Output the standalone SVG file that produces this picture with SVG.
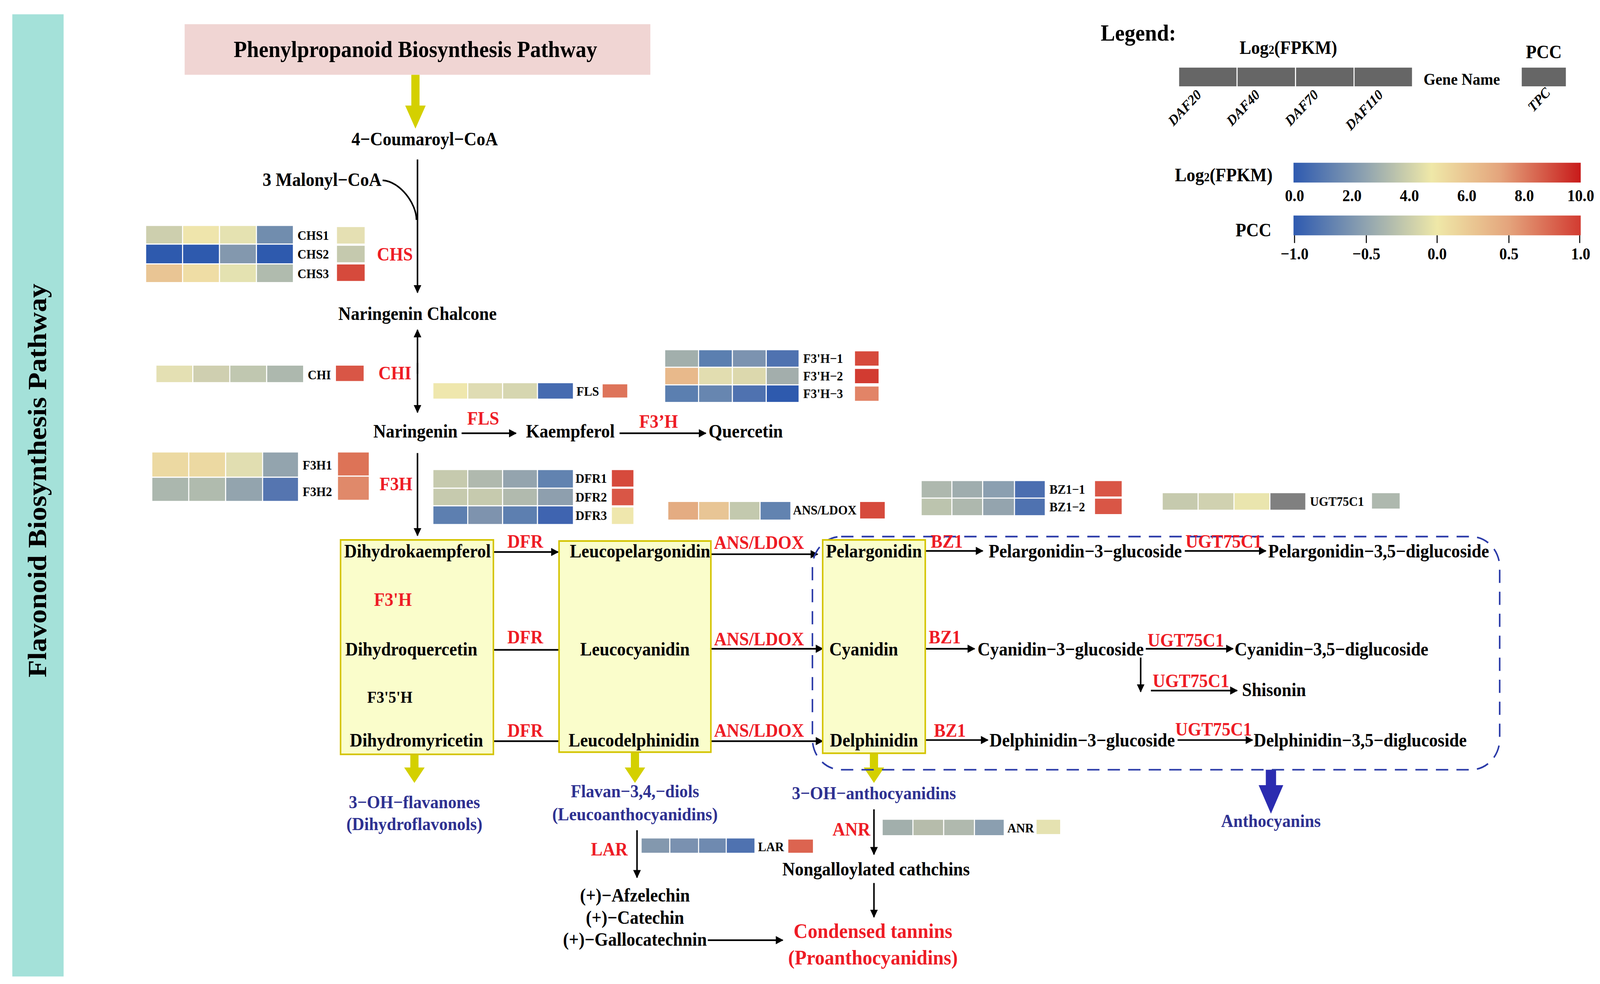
<svg xmlns="http://www.w3.org/2000/svg" width="4393" height="2519" viewBox="0 0 4393 2519">
<defs>
<style>
text{font-family:"Liberation Serif","Times New Roman",serif;font-weight:bold;}
.n{font-size:17px;fill:#000;text-anchor:middle;}
.e{font-size:17px;fill:#ee1c25;text-anchor:middle;}
.b{font-size:16.5px;fill:#2e3191;text-anchor:middle;}
.g{font-size:12px;fill:#000;}
.c rect{stroke:#fff;stroke-width:1;}
.ln{stroke:#000;stroke-width:1.5;fill:none;}
.lna{stroke:#000;stroke-width:1.5;fill:none;marker-end:url(#ah);}
.box{fill:#fafdcb;stroke:#d4c400;stroke-width:1.5;}
.ya{fill:#d4d000;}
</style>
<marker id="ah" viewBox="0 0 10 10" refX="9" refY="5" markerWidth="5" markerHeight="5" orient="auto" markerUnits="strokeWidth"><path d="M0,0L10,5L0,10z" fill="#000"/></marker>
<linearGradient id="grad" x1="0" x2="1" y1="0" y2="0">
<stop offset="0" stop-color="#2e5ab0"/><stop offset="0.25" stop-color="#8fa3b0"/><stop offset="0.48" stop-color="#efe8a8"/><stop offset="0.72" stop-color="#e4a47c"/><stop offset="1" stop-color="#c81a1a"/>
</linearGradient>
<linearGradient id="grad2" x1="0" x2="1" y1="0" y2="0">
<stop offset="0" stop-color="#2e5ab0"/><stop offset="0.25" stop-color="#8fa3b0"/><stop offset="0.5" stop-color="#efe8a8"/><stop offset="0.75" stop-color="#e4a47c"/><stop offset="1" stop-color="#d23b31"/>
</linearGradient>
</defs>
<rect width="4393" height="2519" fill="#fff"/>
<g transform="scale(2.626,2.815)">
<g id="sidebar"><rect x="12" y="13" width="50" height="875" fill="#a4e1d9"/>
<text transform="translate(45,437) rotate(-90)" style="font-size:26px" text-anchor="middle">Flavonoid Biosynthesis Pathway</text></g>
<g id="title"><rect x="180" y="22" width="454" height="46" fill="#f0d5d3"/>
<text x="405" y="52" style="font-size:21px" text-anchor="middle">Phenylpropanoid Biosynthesis Pathway</text></g>

<g id="connectors">
<polygon class="ya" points="401,68 409,68 409,96 415,96 405,117 395,96 401,96"/>
<line class="lna" x1="407" y1="145" x2="407" y2="266"/>
<path class="ln" d="M373,164 C390,165 406,185 406,200"/>
<line class="lna" x1="407" y1="340" x2="407" y2="300"/>
<line class="lna" x1="407" y1="330" x2="407" y2="375"/>
<line class="lna" x1="450" y1="394" x2="503" y2="394"/>
<line class="lna" x1="604" y1="394" x2="688" y2="394"/>
<line class="lna" x1="407" y1="412" x2="407" y2="487"/>
<line class="lna" x1="405" y1="517" x2="405" y2="578"/>
<line class="lna" x1="405" y1="606" x2="405" y2="661"/>
<line class="lna" x1="481" y1="502" x2="544" y2="502"/>
<line class="lna" x1="470" y1="591" x2="556" y2="591"/>
<line class="lna" x1="480" y1="674" x2="553" y2="674"/>
<line class="lna" x1="693" y1="504" x2="797" y2="504"/>
<line class="lna" x1="675" y1="590" x2="802" y2="590"/>
<line class="lna" x1="686" y1="674" x2="802" y2="674"/>
<line class="lna" x1="902" y1="501" x2="958" y2="501"/>
<line class="lna" x1="880" y1="590" x2="950" y2="590"/>
<line class="lna" x1="900" y1="673" x2="963" y2="673"/>
<line class="lna" x1="1155" y1="501" x2="1234" y2="501"/>
<line class="lna" x1="1117" y1="590" x2="1202" y2="590"/>
<line class="lna" x1="1112" y1="598" x2="1112" y2="629"/>
<line class="lna" x1="1122" y1="628" x2="1206" y2="628"/>
<line class="lna" x1="1148" y1="673" x2="1221" y2="673"/>
<polygon class="ya" points="400,686 408,686 408,698 414,698 404,712 394,698 400,698"/>
<polygon class="ya" points="615,684 623,684 623,698 629,698 619,712 609,698 615,698"/>
<polygon class="ya" points="848,685 856,685 856,698 862,698 852,712 842,698 848,698"/>
<polygon points="1234,700 1244,700 1244,714 1251,714 1239,740 1227,714 1234,714" fill="#2b2cb0"/>
<rect x="792" y="488" width="670" height="212" rx="28" fill="none" stroke="#2a3aa8" stroke-width="1.5" stroke-dasharray="12,8"/>
<line class="lna" x1="621" y1="755" x2="621" y2="798"/>
<line class="lna" x1="852" y1="736" x2="852" y2="777"/>
<line class="lna" x1="852" y1="803" x2="852" y2="834"/>
<line class="lna" x1="690" y1="855" x2="763" y2="855"/>
</g>

<g id="boxes"><rect class="box" x="332" y="491" width="149" height="195"/><rect class="box" x="545" y="492" width="148" height="192"/><rect class="box" x="802" y="491" width="100" height="194"/></g>

<g id="nodes">
<text class="n" x="414" y="132">4−Coumaroyl−CoA</text>
<text class="n" x="314" y="169">3 Malonyl−CoA</text>
<text class="n" x="407" y="291">Naringenin Chalcone</text>
<text class="n" x="405" y="398">Naringenin</text>
<text class="n" x="556" y="398">Kaempferol</text>
<text class="n" x="727" y="398">Quercetin</text>
<text class="n" x="407" y="507">Dihydrokaempferol</text>
<text class="n" x="401" y="596">Dihydroquercetin</text>
<text class="n" x="406" y="679">Dihydromyricetin</text>
<text class="n" x="624" y="507">Leucopelargonidin</text>
<text class="n" x="619" y="596">Leucocyanidin</text>
<text class="n" x="618" y="679">Leucodelphinidin</text>
<text class="n" x="852" y="507">Pelargonidin</text>
<text class="n" x="842" y="596">Cyanidin</text>
<text class="n" x="852" y="679">Delphinidin</text>
<text class="n" x="1058" y="507">Pelargonidin−3−glucoside</text>
<text class="n" x="1344" y="507">Pelargonidin−3,5−diglucoside</text>
<text class="n" x="1034" y="596">Cyanidin−3−glucoside</text>
<text class="n" x="1298" y="596">Cyanidin−3,5−diglucoside</text>
<text class="n" x="1242" y="633">Shisonin</text>
<text class="n" x="1055" y="679">Delphinidin−3−glucoside</text>
<text class="n" x="1326" y="679">Delphinidin−3,5−diglucoside</text>
<text class="b" x="404" y="735">3−OH−flavanones</text>
<text class="b" x="404" y="755">(Dihydroflavonols)</text>
<text class="b" x="619" y="725">Flavan−3,4,−diols</text>
<text class="b" x="619" y="746">(Leucoanthocyanidins)</text>
<text class="b" x="852" y="727">3−OH−anthocyanidins</text>
<text class="b" x="1239" y="752">Anthocyanins</text>
<text class="n" x="854" y="796">Nongalloylated cathchins</text>
<text class="n" x="619" y="820">(+)−Afzelechin</text>
<text class="n" x="619" y="840">(+)−Catechin</text>
<text class="n" x="619" y="860">(+)−Gallocatechnin</text>
<text class="e" x="851" y="853" style="font-size:19px">Condensed tannins</text>
<text class="e" x="851" y="877" style="font-size:19px">(Proanthocyanidins)</text>
</g>

<g id="enzymes">
<text class="e" x="385" y="237">CHS</text>
<text class="e" x="385" y="345">CHI</text>
<text class="e" x="471" y="386">FLS</text>
<text class="e" x="642" y="389">F3’H</text>
<text class="e" x="386" y="446">F3H</text>
<text class="e" x="383" y="551">F3'H</text>
<text class="n" x="380" y="639" style="font-size:15px">F3'5'H</text>
<text class="e" x="512" y="498">DFR</text><text class="e" x="512" y="585">DFR</text><text class="e" x="512" y="670">DFR</text>
<text class="e" x="740" y="499">ANS/LDOX</text><text class="e" x="740" y="587">ANS/LDOX</text><text class="e" x="740" y="670">ANS/LDOX</text>
<text class="e" x="923" y="498">BZ1</text><text class="e" x="921" y="585">BZ1</text><text class="e" x="926" y="670">BZ1</text>
<text class="e" x="1193" y="498">UGT75C1</text><text class="e" x="1156" y="588">UGT75C1</text><text class="e" x="1161" y="625">UGT75C1</text><text class="e" x="1183" y="669">UGT75C1</text>
<text class="e" x="594" y="778">LAR</text>
<text class="e" x="830" y="760">ANR</text>
</g>

<g id="hm-chs" class="c">
<rect x="142" y="205" width="36" height="17" fill="#cdcfae"/><rect x="178" y="205" width="36" height="17" fill="#efe5ac"/><rect x="214" y="205" width="36" height="17" fill="#e5e2b1"/><rect x="250" y="205" width="36" height="17" fill="#718dae"/>
<rect x="142" y="222" width="36" height="18" fill="#2e5aae"/><rect x="178" y="222" width="36" height="18" fill="#2e5aae"/><rect x="214" y="222" width="36" height="18" fill="#8398ae"/><rect x="250" y="222" width="36" height="18" fill="#2e5aae"/>
<rect x="142" y="240" width="36" height="17" fill="#e9c594"/><rect x="178" y="240" width="36" height="17" fill="#efdda5"/><rect x="214" y="240" width="36" height="17" fill="#e4e2b1"/><rect x="250" y="240" width="36" height="17" fill="#b0bbae"/>
<rect x="328" y="206" width="28" height="16" fill="#e5e0b3"/><rect x="328" y="223" width="28" height="16" fill="#c5c9ae"/><rect x="328" y="240" width="28" height="16" fill="#d64a3c"/>
<text class="g" x="290" y="218">CHS1</text><text class="g" x="290" y="235">CHS2</text><text class="g" x="290" y="253">CHS3</text>
</g>
<g id="hm-chi" class="c">
<rect x="152" y="332" width="36" height="16" fill="#e4e0b3"/><rect x="188" y="332" width="36" height="16" fill="#cfcfb0"/><rect x="224" y="332" width="36" height="16" fill="#c0c7b0"/><rect x="260" y="332" width="36" height="16" fill="#adb8ae"/>
<rect x="327" y="332" width="28" height="15" fill="#d95646"/><text class="g" x="300" y="345">CHI</text>
</g>
<g id="hm-fls" class="c">
<rect x="422" y="348" width="34" height="15" fill="#efe7ad"/><rect x="456" y="348" width="34" height="15" fill="#dfdcb3"/><rect x="490" y="348" width="34" height="15" fill="#d6d6b0"/><rect x="524" y="348" width="35" height="15" fill="#466bb0"/>
<rect x="587" y="349" width="25" height="13" fill="#de745a"/><text class="g" x="562" y="360">FLS</text>
</g>
<g id="hm-f3h2" class="c">
<rect x="648" y="318" width="33" height="16" fill="#a2afac"/><rect x="681" y="318" width="33" height="16" fill="#5b7fb0"/><rect x="714" y="318" width="33" height="16" fill="#7c93b0"/><rect x="747" y="318" width="32" height="16" fill="#4f72b0"/>
<rect x="648" y="334" width="33" height="16" fill="#e8b98b"/><rect x="681" y="334" width="33" height="16" fill="#e2ddb0"/><rect x="714" y="334" width="33" height="16" fill="#dcd8ad"/><rect x="747" y="334" width="32" height="16" fill="#a3aeac"/>
<rect x="648" y="350" width="33" height="16" fill="#5b7fb0"/><rect x="681" y="350" width="33" height="16" fill="#6786b0"/><rect x="714" y="350" width="33" height="16" fill="#4f72b0"/><rect x="747" y="350" width="32" height="16" fill="#2e5aae"/>
<rect x="833" y="319" width="24" height="14" fill="#d64a3c"/><rect x="833" y="335" width="24" height="14" fill="#d23b31"/><rect x="833" y="351" width="24" height="14" fill="#e28467"/>
<text class="g" x="783" y="330">F3'H−1</text><text class="g" x="783" y="346">F3'H−2</text><text class="g" x="783" y="362">F3'H−3</text>
</g>
<g id="hm-f3h" class="c">
<rect x="148" y="411" width="36" height="23" fill="#ecd9a2"/><rect x="184" y="411" width="36" height="23" fill="#ecd9a2"/><rect x="220" y="411" width="36" height="23" fill="#e1deb1"/><rect x="256" y="411" width="35" height="23" fill="#93a4ae"/>
<rect x="148" y="434" width="36" height="22" fill="#abb7ae"/><rect x="184" y="434" width="36" height="22" fill="#b0bbae"/><rect x="220" y="434" width="36" height="22" fill="#93a4ae"/><rect x="256" y="434" width="35" height="22" fill="#5575b0"/>
<rect x="329" y="411" width="31" height="22" fill="#dd7357"/><rect x="329" y="433" width="31" height="22" fill="#e0896a"/>
<text class="g" x="295" y="427">F3H1</text><text class="g" x="295" y="451">F3H2</text>
</g>
<g id="hm-dfr" class="c">
<rect x="422" y="427" width="34" height="17" fill="#c6caae"/><rect x="456" y="427" width="34" height="17" fill="#b0b9ae"/><rect x="490" y="427" width="34" height="17" fill="#94a4ae"/><rect x="524" y="427" width="35" height="17" fill="#6283b0"/>
<rect x="422" y="444" width="34" height="16" fill="#c6caae"/><rect x="456" y="444" width="34" height="16" fill="#c6caae"/><rect x="490" y="444" width="34" height="16" fill="#b1baae"/><rect x="524" y="444" width="35" height="16" fill="#8e9fae"/>
<rect x="422" y="460" width="34" height="17" fill="#5d7fb0"/><rect x="456" y="460" width="34" height="17" fill="#7e93ae"/><rect x="490" y="460" width="34" height="17" fill="#5d7fb0"/><rect x="524" y="460" width="35" height="17" fill="#3f64b0"/>
<rect x="596" y="427" width="22" height="16" fill="#d64a3c"/><rect x="596" y="444" width="22" height="16" fill="#d95646"/><rect x="596" y="461" width="22" height="16" fill="#efe7ad"/>
<text class="g" x="561" y="439">DFR1</text><text class="g" x="561" y="456">DFR2</text><text class="g" x="561" y="473">DFR3</text>
</g>
<g id="hm-ans" class="c">
<rect x="651" y="456" width="30" height="17" fill="#e4ac82"/><rect x="681" y="456" width="30" height="17" fill="#e8c595"/><rect x="711" y="456" width="30" height="17" fill="#c3c9ae"/><rect x="741" y="456" width="30" height="17" fill="#6283b0"/>
<rect x="838" y="456" width="25" height="16" fill="#d64a3c"/><text class="g" x="773" y="468">ANS/LDOX</text>
</g>
<g id="hm-bz1" class="c">
<rect x="898" y="437" width="30" height="16" fill="#aeb8ae"/><rect x="928" y="437" width="30" height="16" fill="#9fadae"/><rect x="958" y="437" width="31" height="16" fill="#8b9fb0"/><rect x="989" y="437" width="30" height="16" fill="#4b6eb0"/>
<rect x="898" y="453" width="30" height="16" fill="#bcc4ae"/><rect x="928" y="453" width="30" height="16" fill="#aeb8ae"/><rect x="958" y="453" width="31" height="16" fill="#94a4ae"/><rect x="989" y="453" width="30" height="16" fill="#4f72b0"/>
<rect x="1067" y="437" width="27" height="15" fill="#d95646"/><rect x="1067" y="453" width="27" height="15" fill="#d95646"/>
<text class="g" x="1023" y="449">BZ1−1</text><text class="g" x="1023" y="465">BZ1−2</text>
</g>
<g id="hm-ugt" class="c">
<rect x="1133" y="448" width="35" height="16" fill="#c6caae"/><rect x="1168" y="448" width="35" height="16" fill="#d0d1b0"/><rect x="1203" y="448" width="35" height="16" fill="#eae5ae"/><rect x="1238" y="448" width="35" height="16" fill="#808080"/>
<rect x="1337" y="448" width="28" height="15" fill="#aeb8ae"/><text class="g" x="1277" y="460">UGT75C1</text>
</g>
<g id="hm-lar" class="c">
<rect x="625" y="762" width="28" height="14" fill="#8398ae"/><rect x="653" y="762" width="28" height="14" fill="#7a91b0"/><rect x="681" y="762" width="27" height="14" fill="#6f8ab0"/><rect x="708" y="762" width="28" height="14" fill="#4f72b0"/>
<rect x="768" y="763" width="25" height="13" fill="#dc6450"/><text class="g" x="739" y="774">LAR</text>
</g>
<g id="hm-anr" class="c">
<rect x="860" y="745" width="30" height="15" fill="#a2afac"/><rect x="890" y="745" width="30" height="15" fill="#b6bcab"/><rect x="920" y="745" width="30" height="15" fill="#b0b9ae"/><rect x="950" y="745" width="29" height="15" fill="#8b9fb0"/>
<rect x="1010" y="745" width="24" height="14" fill="#e5e2b1"/><text class="g" x="982" y="757">ANR</text>
</g>

<g id="legend">
<text x="1073" y="37" style="font-size:21px">Legend:</text>
<text x="1256" y="49" style="font-size:17px" text-anchor="middle">Log<tspan style="font-size:11px">2</tspan>(FPKM)</text>
<text x="1505" y="53" style="font-size:17px" text-anchor="middle">PCC</text>
<g fill="#666" stroke="#fff" stroke-width="1"><rect x="1149" y="61" width="57" height="18"/><rect x="1206" y="61" width="57" height="18"/><rect x="1263" y="61" width="57" height="18"/><rect x="1320" y="61" width="57" height="18"/><rect x="1483" y="61" width="44" height="18"/></g>
<text x="1425" y="77" style="font-size:15px" text-anchor="middle">Gene Name</text>
<g style="font-size:13px;font-style:italic" text-anchor="end">
<text transform="translate(1172,87) rotate(-45)">DAF20</text>
<text transform="translate(1229,87) rotate(-45)">DAF40</text>
<text transform="translate(1286,87) rotate(-45)">DAF70</text>
<text transform="translate(1349,87) rotate(-45)">DAF110</text>
<text transform="translate(1512,85) rotate(-45)">TPC</text>
</g>
<text x="1193" y="165" style="font-size:17px" text-anchor="middle">Log<tspan style="font-size:11px">2</tspan>(FPKM)</text>
<rect x="1261" y="148" width="280" height="18" fill="url(#grad)"/>
<g style="font-size:15px" text-anchor="middle"><text x="1262" y="183">0.0</text><text x="1318" y="183">2.0</text><text x="1374" y="183">4.0</text><text x="1430" y="183">6.0</text><text x="1486" y="183">8.0</text><text x="1541" y="183">10.0</text></g>
<text x="1222" y="215" style="font-size:17px" text-anchor="middle">PCC</text>
<rect x="1261" y="196" width="280" height="18" fill="url(#grad2)"/>
<g stroke="#000" stroke-width="1"><line x1="1262" y1="214" x2="1262" y2="221"/><line x1="1332" y1="214" x2="1332" y2="221"/><line x1="1401" y1="214" x2="1401" y2="221"/><line x1="1471" y1="214" x2="1471" y2="221"/><line x1="1540" y1="214" x2="1540" y2="221"/></g>
<g style="font-size:15px" text-anchor="middle"><text x="1262" y="236">−1.0</text><text x="1332" y="236">−0.5</text><text x="1401" y="236">0.0</text><text x="1471" y="236">0.5</text><text x="1541" y="236">1.0</text></g>
</g>
</g>
</svg>
